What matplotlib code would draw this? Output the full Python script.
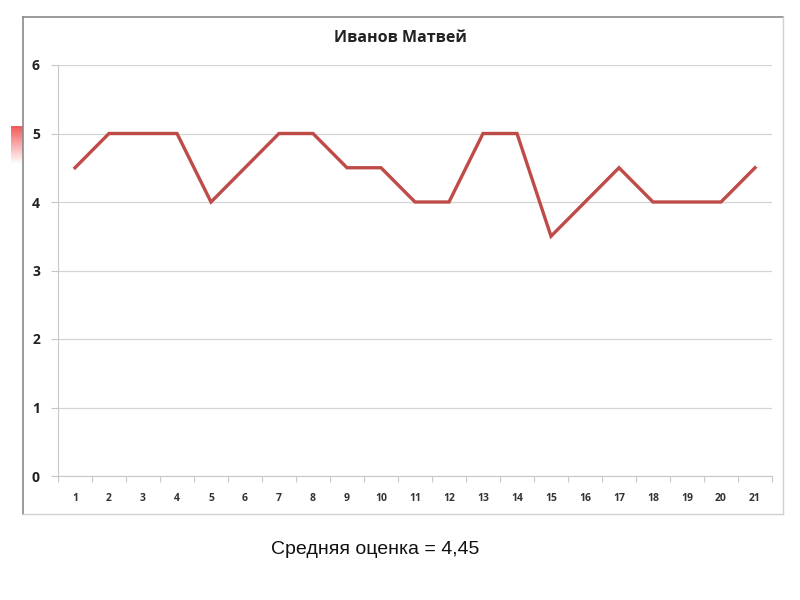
import matplotlib
matplotlib.use("Agg")
import matplotlib.pyplot as plt
from matplotlib.colors import LinearSegmentedColormap
import numpy as np

title = "Иванов Матвей"
lessons = [str(i) for i in range(1, 22)]
grades = [4.5, 5, 5, 5, 4, 4.5, 5, 5, 4.5, 4.5, 4, 4, 5, 5, 3.5, 4, 4.5, 4, 4, 4, 4.5]
y_ticks = [0, 1, 2, 3, 4, 5, 6]
caption = "Средняя оценка = 4,45"

W, H = 800, 600
fig = plt.figure(figsize=(8, 6), dpi=100)
fig.patch.set_facecolor("white")

# chart frame
frame_l, frame_t, frame_r, frame_b = 23, 17, 783, 514
fig.add_artist(plt.Line2D([frame_l / W, frame_l / W], [1 - frame_t / H, 1 - frame_b / H],
                          color="#8a8a8a", lw=1.2, transform=fig.transFigure))
fig.add_artist(plt.Line2D([frame_l / W, frame_r / W], [1 - frame_t / H, 1 - frame_t / H],
                          color="#8a8a8a", lw=1.2, transform=fig.transFigure))
fig.add_artist(plt.Line2D([frame_r / W, frame_r / W], [1 - frame_t / H, 1 - frame_b / H],
                          color="#d0d0d0", lw=1.0, transform=fig.transFigure))
fig.add_artist(plt.Line2D([frame_l / W, frame_r / W], [1 - frame_b / H, 1 - frame_b / H],
                          color="#d0d0d0", lw=1.0, transform=fig.transFigure))

# red gradient decoration at left (red at top, fading downward)
grad = np.linspace(0, 1, 60).reshape(-1, 1)
gax = fig.add_axes([11 / W, 1 - 164 / H, 12 / W, 38 / H])
cmap = LinearSegmentedColormap.from_list("r", ["#f25a5a", "#ffffff"])
gax.imshow(grad, aspect="auto", cmap=cmap, extent=[0, 1, 0, 1], origin="upper")
gax.axis("off")

# plot area
pl, pt, pr, pb = 58, 65, 772, 476
ax = fig.add_axes([pl / W, 1 - pb / H, (pr - pl) / W, (pb - pt) / H])
x = np.arange(1, len(grades) + 1)
ax.plot(x, grades, color="#BE4B48", lw=2.4, solid_joinstyle="miter", zorder=3)
ax.set_xlim(0.5, len(grades) + 0.5)
ax.set_ylim(0, 6)
ax.set_yticks(y_ticks)
ax.set_yticklabels([str(v) for v in y_ticks], fontsize=10, fontweight="bold",
                   family="Open Sans", color="#222222")
ax.set_xticks(x)
ax.set_xticklabels(lessons, fontsize=7.5, fontweight="bold", family="Open Sans", color="#333333")
ax.set_xticks(np.arange(0.5, len(grades) + 1.0, 1.0), minor=True)
ax.tick_params(axis="x", which="major", length=0, pad=12)
ax.tick_params(axis="x", which="minor", length=4, color="#c8c8c8", width=0.8)
ax.tick_params(axis="y", length=5, color="#c8c8c8", width=0.8, pad=8)
ax.grid(axis="y", color="#d4d4d4", lw=0.9)
for s in ["top", "right"]:
    ax.spines[s].set_visible(False)
ax.spines["left"].set_color("#c8c8c8")
ax.spines["bottom"].set_color("#c8c8c8")
ax.set_axisbelow(True)

fig.text(400 / W, 1 - 38 / H, title, ha="center", va="center", fontsize=11.5,
         fontweight="bold", family="Open Sans", color="#222222")
fig.text(375 / W, 1 - 549 / H, caption, ha="center", va="center", fontsize=14,
         family="Liberation Sans", color="#111111")

fig.savefig("out.png", dpi=100)
